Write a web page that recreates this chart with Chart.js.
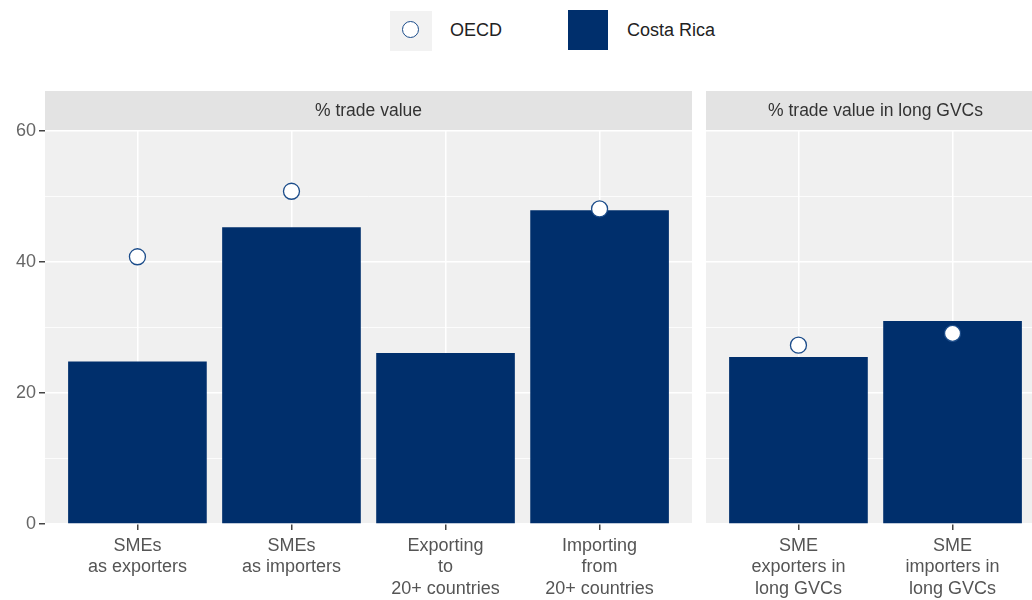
<!DOCTYPE html>
<html>
<head>
<meta charset="utf-8">
<script src="https://cdn.jsdelivr.net/npm/chart.js@4.4.1/dist/chart.umd.min.js"></script>
<style>
  body { margin: 0; width: 1032px; height: 600px; overflow: hidden; position: relative; background: #fff;
         font-family: "Liberation Sans", Arial, sans-serif; }
  .box { position: absolute; }
  .legend-txt { position: absolute; font-size: 18px; color: #222; line-height: 22px; }
</style>
</head>
<body>
<div class="box" style="left:390px;top:11px;width:42px;height:40px;background:#f2f2f2;"></div>
<div class="box" style="left:402px;top:21px;width:15px;height:15px;border:1.5px solid #1b4c8a;border-radius:50%;background:#fff;"></div>
<div class="legend-txt" style="left:450px;top:19px;">OECD</div>
<div class="box" style="left:568px;top:10px;width:40px;height:40px;background:#002f6c;"></div>
<div class="legend-txt" style="left:627px;top:19px;">Costa Rica</div>

<div class="box" style="left:0;top:80px;width:692px;height:520px;"><canvas id="leftChart"></canvas></div>
<div class="box" style="left:706px;top:80px;width:339px;height:520px;"><canvas id="rightChart"></canvas></div>

<script>
// data
const leftCats = [["SMEs", "as exporters"], ["SMEs", "as importers"], ["Exporting", "to", "20+ countries"], ["Importing", "from", "20+ countries"]];
const rightCats = [["SME", "exporters in", "long GVCs"], ["SME", "importers in", "long GVCs"]];
const costaRicaLeft = [24.8, 45.3, 26.1, 47.9];
const oecdLeft = [40.8, 50.8, null, 48.1];
const costaRicaRight = [25.5, 31.0];
const oecdRight = [27.3, 29.1];
const yTicks = [0, 20, 40, 60];
const panelTitles = ["% trade value", "% trade value in long GVCs"];

const FONT = "'Liberation Sans', Arial, sans-serif";
const NAVY = "#002f6c";

const panelPlugin = {
  id: "panel",
  beforeDraw(chart, args, opts) {
    const { ctx, chartArea: a } = chart;
    ctx.save();
    ctx.fillStyle = "#f0f0f0";
    ctx.fillRect(a.left, a.top, a.right - a.left, a.bottom - a.top);
    ctx.fillStyle = "#e3e3e3";
    ctx.fillRect(a.left, 11, a.right - a.left, 39);
    ctx.fillStyle = "#333";
    ctx.font = "17.5px " + FONT;
    ctx.textAlign = "center";
    ctx.textBaseline = "middle";
    ctx.fillText(opts.title, (a.left + a.right) / 2, 31);
    ctx.restore();
  }
};

function makeChart(id, cats, crVals, oecdVals, title, showY) {
  const bars = crVals.map((v, i) => ({ x: i + 1, y: v }));
  const pts = [];
  oecdVals.forEach((v, i) => { if (v !== null) pts.push({ x: i + 1, y: v }); });
  return new Chart(document.getElementById(id), {
    type: "bar",
    data: {
      datasets: [
        {
          type: "line",
          label: "OECD",
          data: pts,
          showLine: false,
          pointRadius: 8,
          pointBorderWidth: 1.3,
          pointBackgroundColor: "#fff",
          pointBorderColor: "#1b4c8a",
          order: 0
        },
        {
          label: "Costa Rica",
          data: bars,
          backgroundColor: NAVY,
          categoryPercentage: 0.9,
          barPercentage: 1,
          order: 1
        }
      ]
    },
    options: {
      responsive: true,
      maintainAspectRatio: false,
      animation: false,
      layout: { autoPadding: false, padding: { top: 51, right: 0, left: 0, bottom: 0 } },
      plugins: { legend: { display: false }, tooltip: { enabled: false }, panel: { title: title } },
      scales: {
        x: {
          type: "linear",
          min: 0.4,
          max: cats.length + 0.6,
          offset: false,
          afterBuildTicks: (s) => { s.ticks = cats.map((c, i) => ({ value: i + 1 })); },
          afterFit: (s) => { s.height = 76; s.paddingLeft = 0; s.paddingRight = 0; },
          grid: { offset: false, color: "#fff", lineWidth: 1.5, tickColor: "#444", tickLength: 6 },
          border: { display: false },
          ticks: {
            callback: (v) => cats[v - 1],
            color: "#555",
            padding: 5,
            maxRotation: 0,
            autoSkip: false,
            font: { family: FONT, size: 18, lineHeight: 1.2 }
          }
        },
        y: {
          min: 0,
          max: 60,
          afterBuildTicks: (s) => { s.ticks = [0, 10, 20, 30, 40, 50, 60].map(v => ({ value: v })); },
          afterFit: (s) => { s.width = showY ? 45 : 0; s.paddingTop = 0; s.paddingBottom = 0; },
          grid: {
            color: "#fff",
            lineWidth: (c) => (c.tick && yTicks.includes(c.tick.value)) ? 1.5 : 0.8,
            tickColor: (c) => (showY && c.tick && yTicks.includes(c.tick.value)) ? "#444" : "rgba(0,0,0,0)",
            tickLength: showY ? 6 : 0
          },
          border: { display: false },
          ticks: {
            display: showY,
            padding: 3,
            color: "#666",
            callback: (v) => yTicks.includes(v) ? v : "",
            font: { family: FONT, size: 18 }
          }
        }
      }
    },
    plugins: [panelPlugin]
  });
}

makeChart("leftChart", leftCats, costaRicaLeft, oecdLeft, panelTitles[0], true);
makeChart("rightChart", rightCats, costaRicaRight, oecdRight, panelTitles[1], false);
</script>
</body>
</html>
